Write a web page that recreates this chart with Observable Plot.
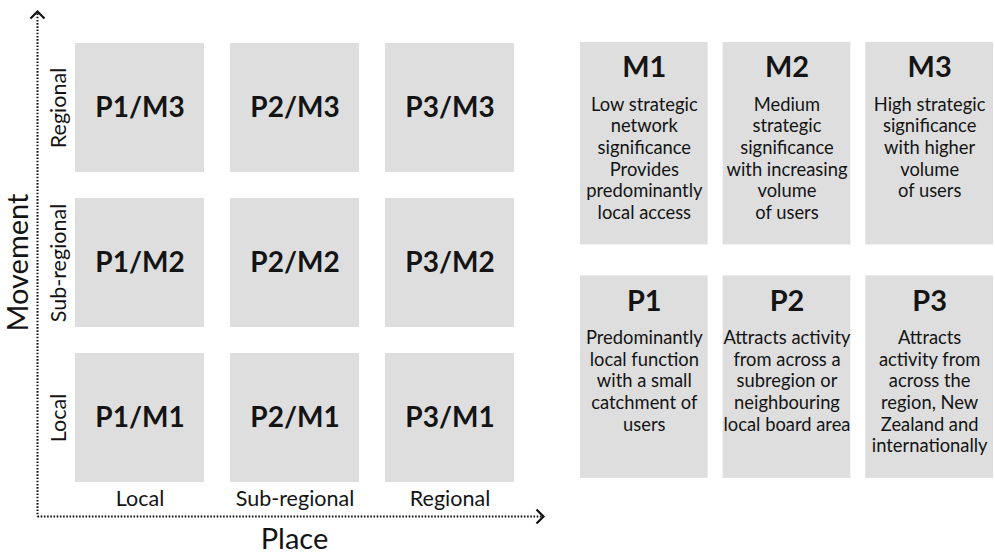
<!DOCTYPE html>
<html>
<head>
<meta charset="utf-8">
<script src="https://cdn.jsdelivr.net/npm/d3@7"></script>
<script src="https://cdn.jsdelivr.net/npm/@observablehq/plot@0.6"></script>
<style>
  html, body { margin: 0; padding: 0; background: #fff; }
  #wrap { position: relative; width: 995px; height: 554px; overflow: hidden; font-family: Lato, sans-serif; }
  #left { position: absolute; left: 0; top: 0; }
  #right { position: absolute; left: 560px; top: 0; }
</style>
</head>
<body>
<div id="wrap"><div id="left"></div><div id="right"></div></div>
<script>
// ---- data ----
const placeLevels = ["Local", "Sub-regional", "Regional"];
const movementLevels = ["Local", "Sub-regional", "Regional"];
const placeCodes = ["P1", "P2", "P3"];
const movementCodes = ["M1", "M2", "M3"];
const xTitle = "Place";
const yTitle = "Movement";
const movementDescriptions = [
  "Low strategic\nnetwork\nsignificance\nProvides\npredominantly\nlocal access",
  "Medium\nstrategic\nsignificance\nwith increasing\nvolume\nof users",
  "High strategic\nsignificance\nwith higher\nvolume\nof users"
];
const placeDescriptions = [
  "Predominantly\nlocal function\nwith a small\ncatchment of\nusers",
  "Attracts activity\nfrom across a\nsubregion or\nneighbouring\nlocal board area",
  "Attracts\nactivity from\nacross the\nregion, New\nZealand and\ninternationally"
];

// ---- derived tables ----
const grid = [];
placeLevels.forEach((p, i) => movementLevels.forEach((m, j) => {
  grid.push({place: p, movement: m, label: placeCodes[i] + "/" + movementCodes[j]});
}));
const panels = [];
movementCodes.forEach((c, i) => panels.push({col: i + 1, row: "Movement", title: c, desc: movementDescriptions[i]}));
placeCodes.forEach((c, i) => panels.push({col: i + 1, row: "Place", title: c, desc: placeDescriptions[i]}));

const boxFill = "#dedede";
const ink = "#141414";
const dotted = {stroke: "#111", strokeWidth: 2, strokeDasharray: "1.6,1.6", strokeLinecap: "butt"};
const chevronUp = {draw(ctx) { ctx.moveTo(-7, 7); ctx.lineTo(0, 0); ctx.lineTo(7, 7); }};
const chevronRight = {draw(ctx) { ctx.moveTo(-7, -7); ctx.lineTo(0, 0); ctx.lineTo(-7, 7); }};

const left = Plot.plot({
  width: 560, height: 554,
  marginLeft: 74, marginRight: 46, marginTop: 42, marginBottom: 72,
  style: {fontFamily: "Lato, sans-serif", color: ink, background: "transparent", overflow: "visible"},
  x: {type: "band", domain: placeLevels, paddingInner: 0.1704, paddingOuter: 0},
  y: {type: "band", domain: [...movementLevels].reverse(), paddingInner: 0.1704, paddingOuter: 0},
  marks: [
    Plot.cell(grid, {x: "place", y: "movement", fill: boxFill}),
    Plot.text(grid, {x: "place", y: "movement", text: "label", fontSize: 28, fontWeight: "bold", fill: ink}),
    Plot.axisX({tickSize: 0, tickPadding: 8, fontSize: 21.5, label: null}),
    Plot.axisY({tickSize: 0, tickRotate: -90, fontSize: 21.5, label: null}),
    Plot.frame({anchor: "left", insetLeft: -37, insetTop: -29, insetBottom: -34, ...dotted}),
    Plot.frame({anchor: "bottom", insetLeft: -37, insetRight: -27, insetBottom: -34, ...dotted}),
    Plot.dot([0], {frameAnchor: "top-left", dx: -37, dy: -31, symbol: chevronUp, fill: "none", stroke: "#111", strokeWidth: 2.2}),
    Plot.dot([0], {frameAnchor: "bottom-right", dx: 29, dy: 34, symbol: chevronRight, fill: "none", stroke: "#111", strokeWidth: 2.2}),
    Plot.text([xTitle], {frameAnchor: "bottom", textAnchor: "middle", lineAnchor: "middle", dy: 57, fontSize: 29, fill: ink}),
    Plot.text([yTitle], {frameAnchor: "left", textAnchor: "middle", lineAnchor: "middle", dx: -56, rotate: -90, fontSize: 29, fill: ink})
  ]
});
document.getElementById("left").appendChild(left);

const right = Plot.plot({
  width: 436, height: 554,
  marginLeft: 19, marginRight: 0, marginTop: 42, marginBottom: 75,
  style: {fontFamily: "Lato, sans-serif", color: ink, background: "transparent", overflow: "visible"},
  x: {type: "band", domain: [1, 2, 3], paddingInner: 0.104, paddingOuter: 0, axis: null},
  y: {type: "band", domain: ["Movement", "Place"], paddingInner: 0.1325, paddingOuter: 0, axis: null},
  marks: [
    Plot.cell(panels, {x: "col", y: "row", fill: boxFill}),
    Plot.text(panels, {x: "col", y: "row", text: "title", dy: -76, fontSize: 29, fontWeight: "bold", fill: ink}),
    Plot.text(panels, {x: "col", y: "row", text: "desc", lineAnchor: "top", dy: -48.5, fontSize: 18.4, lineHeight: 1.18, fill: ink})
  ]
});
document.getElementById("right").appendChild(right);
</script>
</body>
</html>
